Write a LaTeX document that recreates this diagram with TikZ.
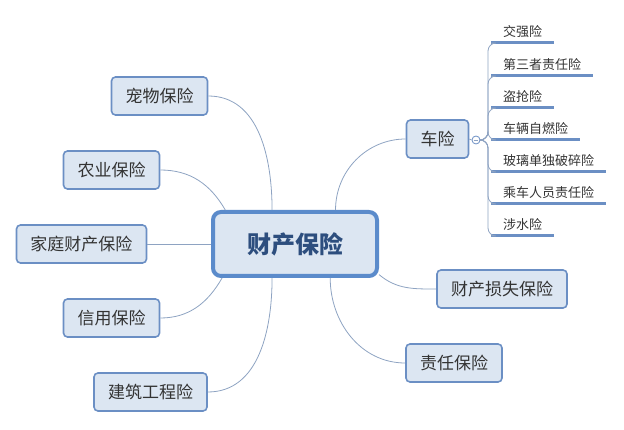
\documentclass[tikz,border=0pt]{standalone}
\usepackage{fontspec}
\setmainfont{Noto Sans CJK SC}
\usetikzlibrary{positioning}

\definecolor{boxfill}{HTML}{DCE6F2}
\definecolor{boxblue}{HTML}{6B8FC4}
\definecolor{rootblue}{HTML}{5B8BCB}
\definecolor{roottext}{HTML}{2D4E7E}
\definecolor{linkblue}{HTML}{8EA3C2}

\begin{document}
\begin{tikzpicture}[
    x=1pt, y=1pt,
    every node/.style={font=\fontsize{17}{20}\selectfont, text=black!80},
    topic/.style={draw=boxblue, fill=boxfill, line width=1.6pt, rounded corners=4pt,
      minimum height=38pt, inner xsep=14pt},
    root/.style={draw=rootblue, fill=boxfill, line width=4pt, rounded corners=8pt,
      minimum width=164pt, minimum height=64pt,
      font=\fontsize{24}{28}\selectfont\bfseries, text=roottext},
    sub/.style={font=\fontsize{13}{15}\selectfont, anchor=south west,
      minimum height=22pt, inner xsep=12pt, inner ysep=0pt},
    toggle/.style={circle, draw=boxblue, fill=white, line width=0.8pt,
      minimum size=8pt, inner sep=0pt},
    branch/.style={draw=linkblue, line width=0.8pt},
    uline/.style={draw=boxblue, line width=3pt},
  ]
    \useasboundingbox (0,0) rectangle (624,-430);

    % centre
    \node[root] (root) at (295,-244) {财产保险};

    % left side
    \node[topic] (pet)    at (159.5,-96)  {宠物保险};
    \node[topic] (farm)   at (111.5,-170) {农业保险};
    \node[topic] (home)   at (81.5,-244)  {家庭财产保险};
    \node[topic] (credit) at (111.5,-318) {信用保险};
    \node[topic] (build)  at (150.5,-392) {建筑工程险};

    % right side
    \node[topic] (car)  at (437.5,-139) {车险};
    \node[topic] (loss) at (502,-289)   {财产损失保险};
    \node[topic] (liab) at (454,-363)   {责任保险};

    \draw[branch] (pet.east)    to[out=0, in=90]  (root.124);
    \draw[branch] (farm.east)   to[out=0, in=120] (root.154);
    \draw[branch] (home.east)   -- (root.west);
    \draw[branch] (credit.east) to[out=0, in=240] (root.205);
    \draw[branch] (build.east)  to[out=0, in=270] (root.236);
    \draw[branch] (car.west)    to[out=180, in=90]  (root.40);
    \draw[branch] (loss.west)   to[out=180, in=-40] (root.-20.5);
    \draw[branch] (liab.west)   to[out=180, in=270] (root.-44);

    % car insurance items
    \node[toggle] (fold) at (476,-140) {};
    \draw[branch] ([xshift=2pt]fold.west) -- ([xshift=-2pt]fold.east);
    \draw[branch] (car.east) -- (fold.west);
    \coordinate (trunk) at (488,-140);
    \foreach \name/\y [count=\i] in {交强险/43, 第三者责任险/76, 盗抢险/108,
        车辆自燃险/140, 玻璃单独破碎险/172, 乘车人员责任险/204, 涉水险/236} {
      \node[sub] (s\i) at (491,-\y) {\name};
      \draw[uline] (s\i.south west) -- (s\i.south east);
      \draw[branch, rounded corners=8pt] (fold.east) -- (trunk) |- (s\i.south west);
    }
\end{tikzpicture}
\end{document}
